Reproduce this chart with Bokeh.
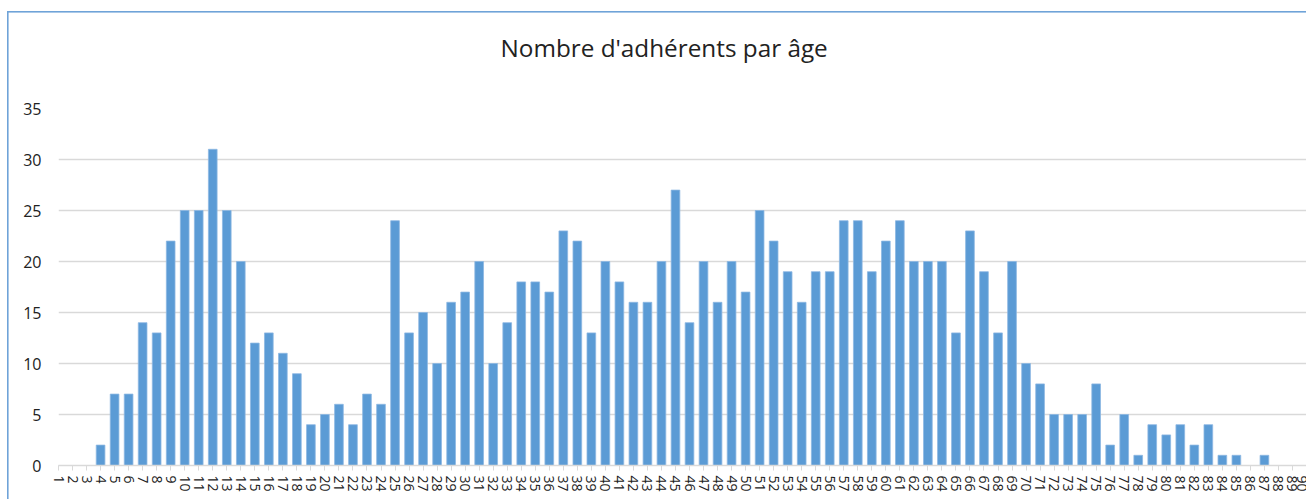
from bokeh.plotting import figure
from bokeh.models import ColumnDataSource, Range1d, FixedTicker
from bokeh.embed import file_html
from bokeh.resources import INLINE

# ---- data ----
title_text = "Nombre d'adhérents par âge"
ages = list(range(1, 91))
counts = [0, 0, 0, 2, 7, 7, 14, 13, 22, 25,
          25, 31, 25, 20, 12, 13, 11, 9, 4, 5,
          6, 4, 7, 6, 24, 13, 15, 10, 16, 17,
          20, 10, 14, 18, 18, 17, 23, 22, 13, 20,
          18, 16, 16, 20, 27, 14, 20, 16, 20, 17,
          25, 22, 19, 16, 19, 19, 24, 24, 19, 22,
          24, 20, 20, 20, 13, 23, 19, 13, 20, 10,
          8, 5, 5, 5, 8, 2, 5, 1, 4, 3,
          4, 2, 4, 1, 1, 0, 1, 0, 0, 0]
y_ticks = [0, 5, 10, 15, 20, 25, 30, 35]

src = ColumnDataSource(data=dict(age=ages, count=counts))

p = figure(width=1306, height=499, output_backend="svg", toolbar_location=None,
           x_range=Range1d(1, 90), y_range=Range1d(0, 35),
           min_border_left=58, min_border_right=0, min_border_top=108, min_border_bottom=34,
           background_fill_color="white", border_fill_color=None,
           title=title_text + "\n ")
p.outline_line_color = None

# outer chart border (drawn as CSS background behind the transparent border area)
blue = "#6FA3D8"
p.styles = {
    "background": (f"linear-gradient({blue},{blue}) 7px 11px / 1.6px 3000px no-repeat, "
                   f"linear-gradient({blue},{blue}) 7px 11px / 3000px 1.6px no-repeat, white")
}

p.vbar(x="age", top="count", width=0.62, source=src,
       fill_color="#5B9BD5", line_color="#8DB7E2", line_width=0.8)

# title (second blank line lets the title sit higher above the frame)
p.title.align = "left"
p.title.offset = 442
p.title.standoff = 20
p.title.vertical_align = "top"
p.title.text_font = "Open Sans"
p.title.text_font_size = "24.3px"
p.title.text_font_style = "normal"
p.title.text_color = "#222222"

# x axis
p.xaxis.ticker = FixedTicker(ticks=ages)
p.xaxis.major_label_orientation = "vertical"
p.xaxis.major_label_text_font = "Open Sans"
p.xaxis.major_label_text_font_size = "14px"
p.xaxis.major_label_text_color = "#222222"
p.xaxis.major_label_standoff = 5
p.xaxis.axis_line_color = "#D9D9D9"
p.xaxis.axis_line_width = 1.5
p.xaxis.major_tick_line_color = "#D9D9D9"
p.xaxis.major_tick_in = 0
p.xaxis.major_tick_out = 5
p.xaxis.minor_tick_line_color = None
p.xgrid.grid_line_color = None

# y axis
p.yaxis.ticker = FixedTicker(ticks=y_ticks)
p.yaxis.axis_line_color = None
p.yaxis.major_tick_line_color = None
p.yaxis.major_tick_in = 0
p.yaxis.major_tick_out = 0
p.yaxis.minor_tick_line_color = None
p.yaxis.major_label_text_font = "Open Sans"
p.yaxis.major_label_text_font_size = "16px"
p.yaxis.major_label_text_color = "#222222"
p.yaxis.major_label_standoff = 17
p.ygrid.grid_line_color = "#D9D9D9"
p.ygrid.grid_line_width = 1.3

open("out.html", "w").write(file_html(p, INLINE))
